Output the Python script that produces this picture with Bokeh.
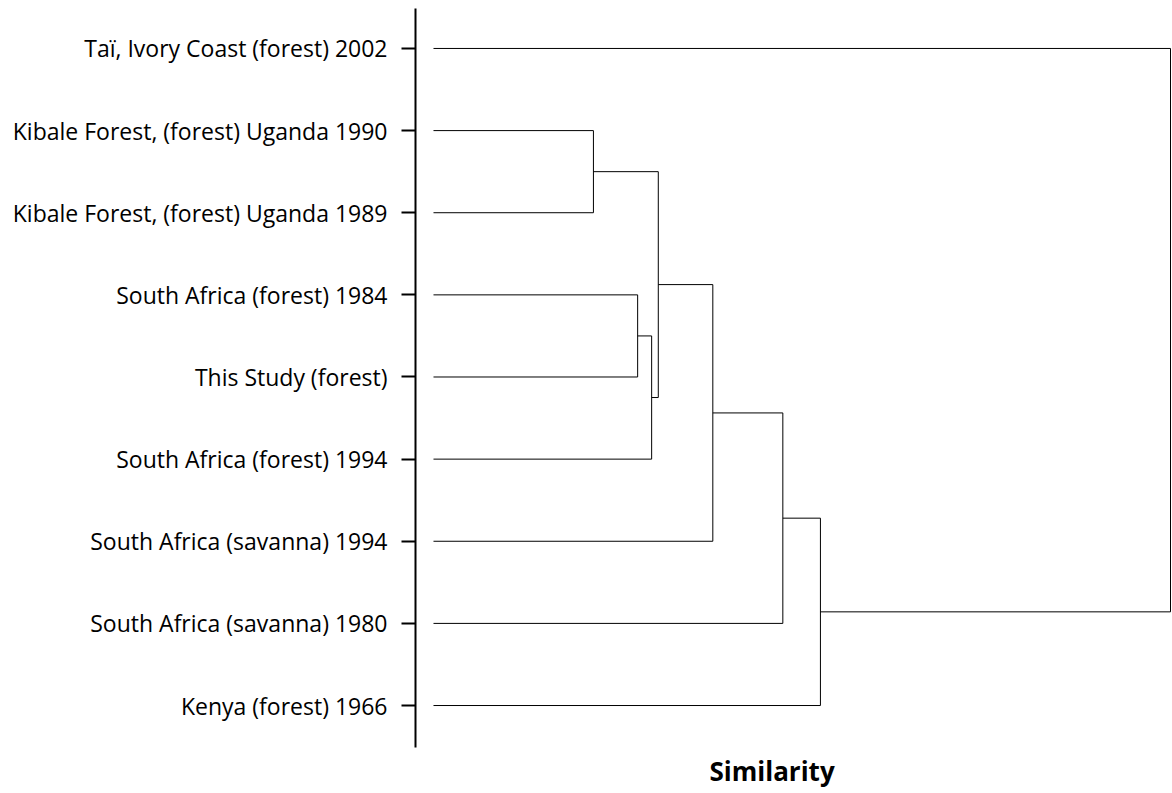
from bokeh.plotting import figure
from bokeh.models import LinearAxis, FixedTicker, Range1d, Title
from bokeh.embed import file_html
from bokeh.resources import INLINE

# Leaves, from top to bottom
leaf_labels = [
    "Taï, Ivory Coast (forest) 2002",
    "Kibale Forest, (forest) Uganda 1990",
    "Kibale Forest, (forest) Uganda 1989",
    "South Africa (forest) 1984",
    "This Study (forest)",
    "South Africa (forest) 1994",
    "South Africa (savanna) 1994",
    "South Africa (savanna) 1980",
    "Kenya (forest) 1966",
]

# Linkage: clusters 0..8 are leaves; merge k creates cluster 9+k
merge_left = [1, 3, 10, 9, 12, 13, 14, 15]
merge_right = [2, 4, 5, 11, 6, 7, 8, 0]
merge_height = [21.7, 27.7, 29.6, 30.5, 37.9, 47.4, 52.5, 100.0]

x_title = "Similarity"

FONT = "Open Sans"
n = len(leaf_labels)

# leaf y positions (top leaf highest)
ypos = {i: float(n - 1 - i) for i in range(n)}
xpos = {i: 0.0 for i in range(n)}

xs, ys = [], []
for k, (a, b, h) in enumerate(zip(merge_left, merge_right, merge_height)):
    xs.append([xpos[a], h, h, xpos[b]])
    ys.append([ypos[a], ypos[a], ypos[b], ypos[b]])
    cid = n + k
    xpos[cid] = h
    ypos[cid] = (ypos[a] + ypos[b]) / 2.0

p = figure(width=1172, height=793, output_backend="svg", toolbar_location=None,
           x_axis_type=None, y_axis_type=None,
           x_range=Range1d(-2.442, 100.27), y_range=Range1d(-0.511, 8.584),
           min_border_left=415, min_border_right=0, min_border_top=0, min_border_bottom=46)
p.outline_line_color = None
p.xgrid.visible = False
p.ygrid.visible = False
p.background_fill_color = "white"
p.border_fill_color = "white"

p.multi_line(xs, ys, line_color="black", line_width=1)

ax = LinearAxis(ticker=FixedTicker(ticks=[ypos[i] for i in range(n)]), bounds=(-0.511, 8.487))
ax.major_label_overrides = {ypos[i]: leaf_labels[i] for i in range(n)}
ax.axis_line_width = 2
ax.axis_line_color = "black"
ax.major_tick_line_width = 2
ax.major_tick_line_color = "black"
ax.major_tick_out = 14
ax.major_tick_in = 0
ax.minor_tick_line_color = None
ax.major_label_standoff = 14
ax.major_label_text_font = FONT
ax.major_label_text_font_size = "23px"
ax.major_label_text_color = "black"
p.add_layout(ax, "left")

t = Title(text=x_title, align="left", offset=294, text_font=FONT, text_font_size="26px",
          text_font_style="bold", text_color="black", standoff=6)
p.add_layout(t, "below")

open("out.html", "w").write(file_html(p, INLINE))
